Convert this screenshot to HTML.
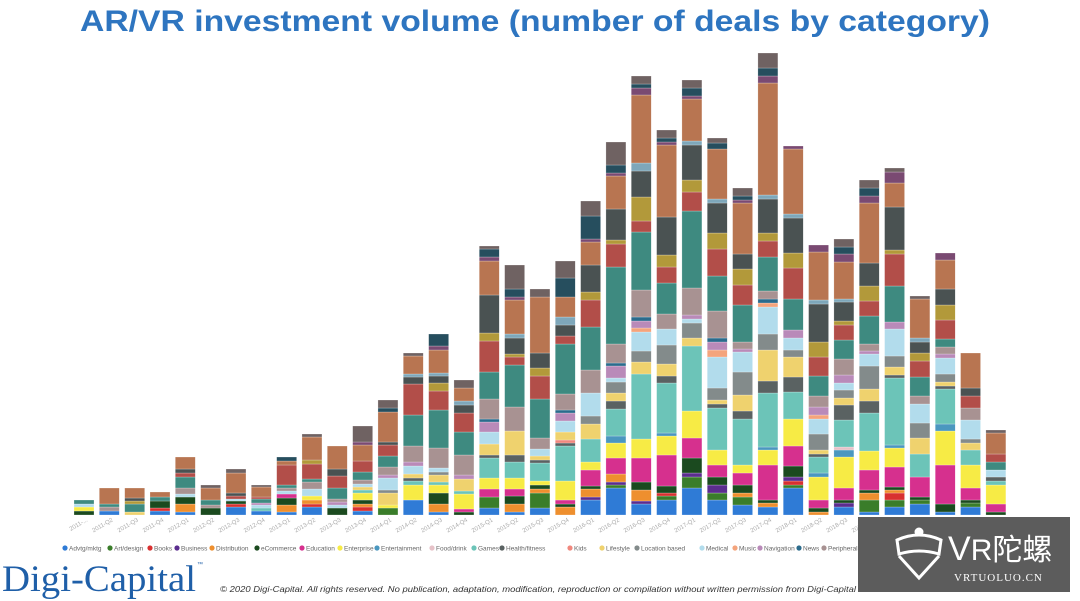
<!DOCTYPE html>
<html><head><meta charset="utf-8">
<style>
html,body{margin:0;padding:0;background:#fff;}
body{width:1080px;height:601px;overflow:hidden;position:relative;font-family:"Liberation Sans",sans-serif;}
svg{position:absolute;left:0;top:0;}
</style></head>
<body>
<svg id="chart" width="1080" height="601" viewBox="0 0 1080 601">
  <text x="535" y="31" text-anchor="middle" font-size="30" font-weight="bold" fill="#2e75c0" textLength="910" lengthAdjust="spacingAndGlyphs">AR/VR investment volume (number of deals by category)</text>
  <g id="bars"></g>
  <g id="xlabels"></g>
  <g id="legend"></g>
  <text x="2" y="591" font-family="Liberation Serif, serif" font-size="37" fill="#1f5fa8" textLength="194" lengthAdjust="spacingAndGlyphs">Digi-Capital</text>
  <text x="197" y="566" font-size="6" fill="#1f5fa8">™</text>
  <text x="220" y="592" font-size="8.3" font-style="italic" fill="#333" textLength="636" lengthAdjust="spacingAndGlyphs">© 2020 Digi-Capital. All rights reserved. No publication, adaptation, modification, reproduction or compilation without written permission from Digi-Capital</text>
  <g>
    <rect x="858" y="517" width="212" height="75" fill="#5c5c5c"/>
    <g fill="none" stroke="#fff" stroke-width="3">
      <path d="M897 540 q22 -10 44 0 l-2 14 q-20 -6 -40 0 z"/>
      <path d="M899 556 l20 22 l20 -22"/>
      <circle cx="919" cy="532" r="3" fill="#fff"/>
    </g>
    <text x="948" y="560" font-size="34" fill="#fff" font-family="Liberation Sans, 'Noto Sans CJK SC', sans-serif">V<tspan font-size="30">R陀螺</tspan></text>
    <text x="954" y="581" font-size="11" fill="#fff" font-family="Liberation Serif, serif" letter-spacing="1">VRTUOLUO.CN</text>
  </g>
</svg>
<script>
const quarters = ["2011-...","2011-Q2","2011-Q3","2011-Q4","2012-Q1","2012-Q2","2012-Q3","2012-Q4","2013-Q1","2013-Q2","2013-Q3","2013-Q4","2014-Q1","2014-Q2","2014-Q3","2014-Q4","2015-Q1","2015-Q2","2015-Q3","2015-Q4","2016-Q1","2016-Q2","2016-Q3","2016-Q4","2017-Q1","2017-Q2","2017-Q3","2017-Q4","2018-Q1","2018-Q2","2018-Q3","2018-Q4","2019-Q1","2019-Q2","2019-Q3","2019-Q4","2020-Q1"];
const advtg = [0,4,0,4,3,0,8,4,3,8,0,4,0,15,3,0,7,3,7,0,15,27,11,15,27,15,10,8,27,0,8,3,8,11,3,8,0];
const artDesign = [0,0,0,0,0,0,0,0,0,0,0,0,7,0,0,0,11,0,15,0,0,3,0,4,11,7,8,0,3,0,0,12,7,4,0,4,0];
const books = [0,0,0,3,0,0,3,0,0,3,0,4,0,0,0,0,0,0,0,0,0,0,0,3,0,0,0,0,4,0,0,0,7,0,0,0,0];
const business = [0,0,0,0,0,0,0,0,0,0,0,0,0,0,0,0,0,0,0,0,3,3,3,0,4,8,0,0,4,0,4,0,0,0,0,0,0];
const distribution = [0,0,0,0,8,0,0,0,7,4,0,3,0,0,8,0,0,8,4,8,8,8,11,0,0,0,4,4,0,3,0,7,3,0,0,0,0];
const ecommerce = [4,0,0,7,7,7,3,0,7,0,7,4,0,0,11,3,0,8,4,3,3,0,8,7,15,8,8,3,11,4,3,3,3,3,8,3,3];
const education = [0,0,0,0,0,0,0,0,4,0,0,0,0,0,0,3,8,7,0,4,16,16,24,31,20,12,12,35,20,8,12,20,20,20,39,12,8];
const enterprise = [4,0,0,0,0,0,0,0,0,4,0,7,3,15,8,15,11,11,4,19,8,15,19,19,27,15,8,15,27,23,31,19,19,0,34,23,19];
const entertainment = [0,0,0,0,0,0,0,0,0,0,0,0,0,0,0,0,0,0,0,0,0,7,0,3,0,0,0,3,0,4,7,0,3,0,7,0,0];
const foodDrink = [0,0,0,0,0,0,0,0,0,0,0,0,0,0,0,0,0,0,0,0,0,0,0,0,0,0,0,0,0,0,3,0,0,0,0,0,0];
const games = [0,0,0,0,0,0,0,3,0,0,0,3,0,4,3,3,20,16,18,35,23,27,65,50,65,42,46,54,27,16,27,38,67,23,35,15,4];
const health = [0,0,0,0,0,0,0,0,0,0,0,0,0,3,0,0,3,7,3,3,0,8,0,7,0,4,8,12,15,3,15,12,3,0,3,0,4];
const kids = [0,0,0,0,0,0,0,0,0,0,0,0,0,0,0,0,0,0,0,3,0,0,0,0,0,0,0,0,0,0,0,0,0,0,0,0,0];
const lifestyle = [0,0,3,0,0,0,0,0,0,0,0,3,12,4,7,12,11,24,4,8,15,8,12,12,8,4,16,31,20,4,7,12,8,16,4,7,0];
const locationBased = [0,0,0,0,0,0,0,0,0,0,0,0,3,0,3,0,0,0,0,0,8,11,11,19,15,12,23,16,7,16,8,23,11,15,8,4,0];
const medical = [3,0,0,0,3,0,2,3,3,7,3,3,12,8,4,0,12,0,7,11,23,4,19,16,4,31,20,27,12,15,7,12,27,19,16,19,7];
const music = [0,0,0,0,0,0,0,0,0,0,0,0,0,0,0,0,0,0,0,0,0,0,4,0,0,7,0,4,0,4,0,0,0,0,0,0,0];
const navigation = [0,0,0,0,0,0,0,2,0,0,3,0,3,4,0,4,10,0,0,8,0,12,7,0,4,8,3,0,8,8,8,3,7,0,4,0,0];
const news = [0,0,0,0,0,0,0,0,0,0,0,0,0,0,0,0,3,0,0,3,0,3,4,0,0,4,0,4,0,0,0,0,0,0,0,0,0];
const peripherals = [0,4,0,0,6,3,0,0,3,7,3,4,8,16,20,20,20,24,11,16,23,19,27,15,27,27,7,8,0,11,16,7,0,8,7,12,0];
const photoVideo = [4,3,8,4,11,5,0,4,3,3,11,8,11,31,38,23,27,42,39,50,43,77,58,31,77,35,37,34,31,20,19,28,36,19,8,0,8];
const retail = [0,0,0,0,4,0,3,2,20,15,12,11,11,31,19,19,31,8,23,8,27,23,11,16,19,27,20,16,31,19,15,15,32,16,19,12,8];
const social = [0,0,3,0,0,0,0,0,0,4,0,0,0,0,8,0,8,3,8,0,8,4,24,12,12,16,16,8,15,15,4,15,4,8,15,0,0];
const sports = [0,0,3,0,4,0,3,0,0,0,7,0,3,7,7,8,38,16,15,11,27,31,26,38,35,30,15,34,35,38,19,23,43,11,16,8,0];
const telecom = [0,0,0,0,0,0,0,0,0,0,0,0,0,3,3,4,0,4,0,8,0,0,8,0,4,4,0,4,4,4,3,0,0,4,0,0,0];
const tools = [0,16,10,5,12,12,20,10,4,23,23,16,30,18,23,13,34,34,56,20,23,33,68,72,42,50,51,112,65,48,37,60,24,39,29,35,21];
const travel = [0,0,0,0,0,0,0,0,0,0,0,3,0,0,4,0,4,3,0,0,3,3,7,3,3,0,3,7,3,7,8,7,11,0,7,0,0];
const video = [0,0,0,0,0,0,0,0,4,0,0,0,4,0,12,0,8,8,0,19,23,8,4,4,8,6,4,8,0,0,7,8,0,0,0,0,0];
const other = [0,0,0,0,0,3,4,2,0,3,0,16,8,3,0,8,3,24,8,17,15,23,8,8,8,5,8,15,0,0,8,8,4,3,0,0,3];

const seriesNames = ["Advtg/mktg","Art/design","Books","Business","Distribution","eCommerce","Education","Enterprise","Entertainment","Food/drink","Games","Health/fitness","Kids","Lifestyle","Location based","Medical","Music","Navigation","News","Peripherals","Photo/video","Retail","Social","Sports","Telecom","Tools","Travel","Video","Other"];
const seriesData = [advtg,artDesign,books,business,distribution,ecommerce,education,enterprise,entertainment,foodDrink,games,health,kids,lifestyle,locationBased,medical,music,navigation,news,peripherals,photoVideo,retail,social,sports,telecom,tools,travel,video,other];
const colors = ["#2f7bd6","#3a7d2a","#d83030","#5b2d8e","#ee8f2e","#1b4a1f","#d6308e","#f7eb45","#4b97bf","#e6c2c8","#6cc4b8","#5a6262","#f0887e","#efd26e","#838b8b","#b2dcec","#f4a47c","#b98ab9","#2b6b8c","#a89292","#3e8a80","#b24e49","#b2993a","#4a5252","#7ea7ba","#b87551","#7a4a72","#264e5e","#6f6262"];

const NS="http://www.w3.org/2000/svg";
const baseY=515, topY=35, yMax=480;
function yScale(v){return baseY-(v/yMax)*(baseY-topY);}
const x0=84, step=25.33, bw=20;
function xScale(i){return x0+i*step;}

const gb=document.getElementById('bars');
quarters.forEach((q,i)=>{
  const g=document.createElementNS(NS,'g');
  
  
  let cum=0;
  seriesData.forEach((arr,s)=>{
    const v=arr[i]; if(!v) return;
    const y1=yScale(cum), y2=yScale(cum+v);
    const r=document.createElementNS(NS,'rect');
    r.setAttribute('x',xScale(i)-bw/2); r.setAttribute('width',bw);
    r.setAttribute('y',y2); r.setAttribute('height',y1-y2);
    r.setAttribute('fill',colors[s]);
    r.setAttribute('stroke','#ffffff'); r.setAttribute('stroke-width','0.4'); r.setAttribute('stroke-opacity','0.6');
    
    
    g.appendChild(r);
    cum+=v;
  });
  gb.appendChild(g);
  const t=document.createElementNS(NS,'text');
  const lx=xScale(i)+4, ly=521;
  t.setAttribute('x',lx); t.setAttribute('y',ly);
  t.setAttribute('text-anchor','end');
  t.setAttribute('font-size','6');
  t.setAttribute('fill','#aaaaaa');
  t.setAttribute('transform','rotate(-30 '+lx+' '+ly+')');
  t.textContent=q;
  
  
  document.getElementById('xlabels').appendChild(t);
});

const legendX=[63,108,148,175,210,255,300,338,375,430,472,500,568,600,635,700,733,758,797,822,860];
const lg=document.getElementById('legend');
legendX.forEach((lx,s)=>{
  const g=document.createElementNS(NS,'g');
  
  
  const c=document.createElementNS(NS,'circle');
  c.setAttribute('cx',lx+2); c.setAttribute('cy',548); c.setAttribute('r',2.6);
  c.setAttribute('fill',colors[s]);
  g.appendChild(c);
  const t=document.createElementNS(NS,'text');
  t.setAttribute('x',lx+6); t.setAttribute('y',550.5);
  t.setAttribute('font-size','6.5'); t.setAttribute('fill','#666');
  t.textContent=seriesNames[s];
  g.appendChild(t);
  lg.appendChild(g);
});
</script>
</body></html>
